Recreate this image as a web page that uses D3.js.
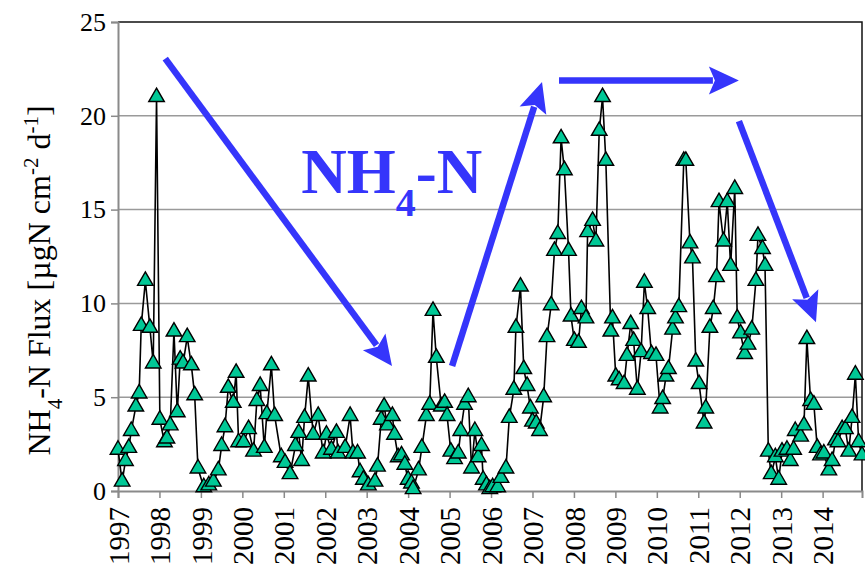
<!DOCTYPE html>
<html>
<head>
<meta charset="utf-8">
<script src="https://cdn.jsdelivr.net/npm/d3@7/dist/d3.min.js"></script>
<style>
  html, body { margin: 0; padding: 0; background: #fff; }
  svg { display: block; }
</style>
</head>
<body>
<svg id="chart" width="865" height="574"></svg>
<script>
// Sampling dates (decimal years) and NH4-N flux (µgN cm-2 d-1)
const sampleYear = [
  1997.00, 1997.10, 1997.18, 1997.26, 1997.32, 1997.43, 1997.51, 1997.56, 1997.66, 1997.77,
  1997.85, 1997.93, 1998.01, 1998.12, 1998.18, 1998.26, 1998.35, 1998.43, 1998.50, 1998.57,
  1998.67, 1998.77, 1998.85, 1998.93, 1999.07, 1999.19, 1999.30, 1999.42, 1999.50, 1999.58,
  1999.66, 1999.78, 1999.85, 1999.91, 2000.03, 2000.15, 2000.27, 2000.35, 2000.43, 2000.53,
  2000.59, 2000.70, 2000.78, 2000.94, 2001.03, 2001.15, 2001.28, 2001.36, 2001.43, 2001.50,
  2001.59, 2001.71, 2001.83, 2001.95, 2002.03, 2002.15, 2002.27, 2002.31, 2002.48, 2002.60,
  2002.67, 2002.78, 2002.84, 2002.92, 2003.04, 2003.20, 2003.26, 2003.35, 2003.42, 2003.50,
  2003.62, 2003.67, 2003.76, 2003.84, 2003.92, 2004.00, 2004.08, 2004.12, 2004.25, 2004.33,
  2004.44, 2004.52, 2004.60, 2004.68, 2004.80, 2004.88, 2004.94, 2005.03, 2005.12, 2005.21,
  2005.27, 2005.36, 2005.45, 2005.53, 2005.61, 2005.69, 2005.77, 2005.81, 2005.89, 2005.97,
  2006.04, 2006.16, 2006.24, 2006.36, 2006.44, 2006.55, 2006.60, 2006.71, 2006.79, 2006.87,
  2006.95, 2007.00, 2007.09, 2007.17, 2007.27, 2007.35, 2007.45, 2007.53, 2007.61, 2007.69,
  2007.77, 2007.87, 2007.93, 2008.01, 2008.11, 2008.18, 2008.29, 2008.33, 2008.45, 2008.53,
  2008.61, 2008.69, 2008.77, 2008.89, 2008.93, 2009.01, 2009.09, 2009.21, 2009.28, 2009.37,
  2009.44, 2009.53, 2009.62, 2009.70, 2009.78, 2009.87, 2009.98, 2010.08, 2010.14, 2010.22,
  2010.28, 2010.38, 2010.45, 2010.53, 2010.65, 2010.70, 2010.80, 2010.86, 2010.94, 2011.02,
  2011.14, 2011.18, 2011.28, 2011.36, 2011.44, 2011.50, 2011.61, 2011.70, 2011.78, 2011.88,
  2011.94, 2012.02, 2012.12, 2012.20, 2012.29, 2012.39, 2012.44, 2012.55, 2012.61, 2012.69,
  2012.76, 2012.86, 2012.94, 2013.02, 2013.14, 2013.22, 2013.30, 2013.34, 2013.47, 2013.55,
  2013.62, 2013.71, 2013.79, 2013.87, 2013.95, 2014.03, 2014.15, 2014.23, 2014.31, 2014.37,
  2014.47, 2014.55, 2014.63, 2014.71, 2014.79, 2014.87, 2014.95
];
const flux = [
  2.2, 0.5, 1.6, 2.3, 3.2, 4.5, 5.2, 8.8, 11.2, 8.7,
  6.8, 21.0, 3.8, 2.6, 2.8, 3.5, 8.5, 4.2, 7.0, 6.8,
  8.2, 6.7, 5.1, 1.2, 0.2, 0.3, 0.5, 1.1, 2.4, 3.4,
  5.5, 4.7, 6.3, 2.6, 2.6, 3.3, 2.1, 4.8, 5.6, 2.3,
  4.1, 6.7, 4.0, 1.8, 1.5, 0.9, 2.4, 3.1, 1.6, 3.9,
  6.1, 3.0, 4.0, 2.0, 3.0, 2.2, 3.1, 2.0, 2.3, 4.0,
  2.0, 2.0, 1.0, 0.6, 0.3, 0.5, 1.3, 3.8, 4.5, 3.5,
  4.0, 3.0, 1.8, 1.9, 1.4, 0.6, 0.4, 0.1, 1.1, 2.3,
  4.0, 4.6, 9.6, 7.1, 4.5, 4.7, 4.0, 2.1, 1.7, 2.0,
  3.2, 4.6, 5.0, 1.2, 3.2, 1.8, 2.4, 0.6, 0.3, 0.1,
  0.2, 0.2, 0.7, 1.2, 3.9, 5.4, 8.7, 10.9, 6.5, 5.6,
  4.4, 3.7, 3.6, 3.2, 5.0, 8.2, 9.9, 12.8, 13.7, 18.8,
  17.1, 12.8, 9.3, 8.0, 7.9, 9.7, 9.2, 13.8, 14.4, 13.3,
  19.2, 21.0, 17.6, 8.5, 9.2, 6.1, 5.9, 5.7, 7.2, 8.9,
  8.0, 5.4, 7.4, 11.1, 9.7, 7.3, 7.2, 4.4, 4.9, 6.1,
  6.5, 8.6, 9.2, 9.8, 17.6, 17.6, 13.2, 12.4, 6.9, 5.7,
  3.6, 4.4, 8.7, 9.7, 11.4, 15.4, 13.3, 15.4, 12.0, 16.1,
  9.2, 8.4, 7.3, 7.8, 8.6, 11.2, 13.6, 12.9, 12.0, 2.1,
  0.9, 1.8, 0.6, 2.1, 2.2, 1.6, 2.2, 3.2, 2.9, 3.5,
  8.1, 4.8, 4.6, 2.3, 1.9, 2.0, 1.1, 1.6, 2.7, 2.6,
  3.3, 3.3, 2.1, 3.9, 6.2, 2.6, 1.9
];
const yTicks = [0, 5, 10, 15, 20, 25];
const yearTicks = d3.range(1997, 2015);

// Trend annotations, in (year, flux) units
const arrowStart = [[1998.14, 23.05], [2005.06, 6.66], [2007.64, 21.88], [2011.98, 19.72]];
const arrowEnd   = [[2003.61, 6.66], [2007.23, 21.80], [2011.98, 21.88], [2013.84, 9.0]];
const labelAt = [2001.42, 15.9];

const W = 865, H = 574;
const plot = { left: 118, right: 862, top: 22, bottom: 491 };
const serif = "'Liberation Serif', 'Times New Roman', serif";
const accent = "#3535fb";

const svg = d3.select("#chart");
const x = d3.scaleLinear().domain([1997, 2014.95]).range([plot.left, plot.right]);
const y = d3.scaleLinear().domain([0, 25]).range([plot.bottom, plot.top]);

// Horizontal gridlines
svg.append("g")
  .selectAll("line")
  .data(yTicks.filter(d => d > 0 && d < 25))
  .join("line")
  .attr("x1", plot.left).attr("x2", plot.right)
  .attr("y1", d => y(d)).attr("y2", d => y(d))
  .attr("stroke", "#9a9a9a").attr("stroke-width", 1.5);

// Frame: top and right edges
svg.append("path")
  .attr("d", `M${plot.left},${y(25)}H${plot.right}V${plot.bottom}`)
  .attr("fill", "none").attr("stroke", "#111").attr("stroke-width", 1.5);

// Y axis
const yAxis = svg.append("g")
  .attr("transform", `translate(${plot.left},0)`)
  .call(d3.axisLeft(y).tickValues(yTicks).tickSize(7).tickPadding(5).tickFormat(d3.format("d")));
yAxis.select(".domain").attr("stroke", "#8a8a8a").attr("stroke-width", 2);
yAxis.selectAll(".tick line").attr("stroke", "#8a8a8a").attr("stroke-width", 1.5);
yAxis.selectAll(".tick text")
  .attr("font-family", serif).attr("font-size", 26).attr("fill", "#000");

// X axis with vertical year labels
const xAxis = svg.append("g")
  .attr("transform", `translate(0,${plot.bottom})`)
  .call(d3.axisBottom(x).tickValues(yearTicks).tickSize(7).tickFormat(d3.format("d")));
xAxis.select(".domain").attr("stroke", "#8a8a8a").attr("stroke-width", 2);
xAxis.selectAll(".tick line").attr("stroke", "#8a8a8a").attr("stroke-width", 1.5);
xAxis.selectAll(".tick text")
  .attr("font-family", serif).attr("font-size", 29).attr("fill", "#000")
  .attr("text-anchor", "end")
  .attr("dy", "0.35em")
  .attr("transform", "translate(0,16) rotate(-90)")
  .attr("x", 0).attr("y", 0);

// Y axis title with sub/superscripts
const yTitle = svg.append("text")
  .attr("transform", `translate(50,${(plot.top + plot.bottom) / 2 + 24}) rotate(-90)`)
  .attr("text-anchor", "middle")
  .attr("font-family", serif).attr("font-size", 32).attr("fill", "#000");
yTitle.append("tspan").text("NH");
yTitle.append("tspan").attr("baseline-shift", "sub").attr("font-size", 21).text("4");
yTitle.append("tspan").text("-N Flux [µgN cm");
yTitle.append("tspan").attr("baseline-shift", "super").attr("font-size", 21).text("-2");
yTitle.append("tspan").text(" d");
yTitle.append("tspan").attr("baseline-shift", "super").attr("font-size", 21).text("-1");
yTitle.append("tspan").text("]");

// Trend arrows
const arrows = svg.append("g");
arrowStart.forEach((s, i) => {
  const e = arrowEnd[i];
  const x0 = x(s[0]), y0 = y(s[1]), x1 = x(e[0]), y1 = y(e[1]);
  const len = Math.hypot(x1 - x0, y1 - y0);
  const ux = (x1 - x0) / len, uy = (y1 - y0) / len;
  const headLen = 30, headHalf = 14;
  const bx = x1 - ux * headLen, by = y1 - uy * headLen;
  arrows.append("line")
    .attr("x1", x0).attr("y1", y0).attr("x2", bx + ux * 4).attr("y2", by + uy * 4)
    .attr("stroke", accent).attr("stroke-width", 6.5);
  arrows.append("path")
    .attr("d", `M${x1},${y1}L${bx - uy * headHalf},${by + ux * headHalf}L${bx + ux * 6},${by + uy * 6}L${bx + uy * headHalf},${by - ux * headHalf}Z`)
    .attr("fill", accent);
});

// NH4-N label
const label = svg.append("text")
  .attr("x", x(labelAt[0])).attr("y", y(labelAt[1]))
  .attr("font-family", serif).attr("font-weight", "bold").attr("font-size", 63).attr("fill", accent);
label.append("tspan").text("NH");
label.append("tspan").attr("baseline-shift", "sub").attr("font-size", 40).text("4");
label.append("tspan").text("-N");

// Flux series
const pts = sampleYear.map((t, i) => [t, flux[i]]);
svg.append("path")
  .datum(pts)
  .attr("d", d3.line().x(d => x(d[0])).y(d => y(d[1])))
  .attr("fill", "none").attr("stroke", "#000").attr("stroke-width", 1.6);

const tri = d3.symbol().type(d3.symbolTriangle).size(105);
svg.append("g")
  .selectAll("path")
  .data(pts)
  .join("path")
  .attr("transform", d => `translate(${x(d[0])},${y(d[1])})`)
  .attr("d", tri)
  .attr("fill", "#00c896").attr("stroke", "#000").attr("stroke-width", 1.4);
</script>
</body>
</html>
